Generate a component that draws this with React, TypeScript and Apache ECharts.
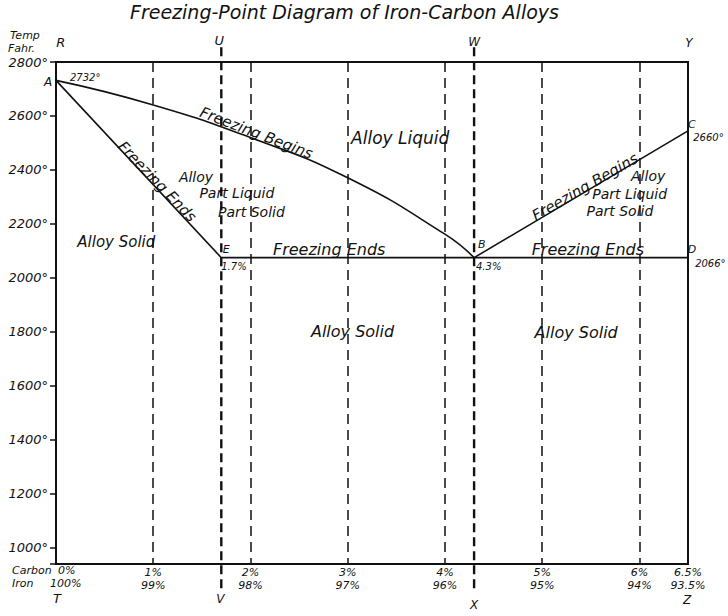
import React, { useEffect, useRef } from "react";
import * as echarts from "echarts";

// Liquidus curve A -> B (carbon %, temperature °F)
const liquidusCarbon = [0, 1, 2, 3, 4, 4.3];
const liquidusTemp = [2732, 2641, 2520, 2371, 2162, 2075];
// Solidus A -> E
const solidusCarbon = [0, 1.7];
const solidusTemp = [2732, 2075];
// Eutectic line E -> D
const eutecticCarbon = [1.7, 6.5];
const eutecticTemp = [2075, 2075];
// Liquidus B -> C
const rightCarbon = [4.3, 6.5];
const rightTemp = [2075, 2545];
// Section lines U-V and W-X
const sectionCarbon = [1.7, 4.3];
const sectionTemp = [2855, 844];

const yTicks = [1000, 1200, 1400, 1600, 1800, 2000, 2200, 2400, 2600, 2800];

// Annotations: text, carbon %, temp, rotation, size
const noteText = [
  "Freezing Begins", "Freezing Ends", "Alloy Liquid", "Alloy", "Part Liquid", "Part Solid",
  "Alloy Solid", "E", "1.7%", "Freezing Ends", "B", "4.3%", "Freezing Begins", "Alloy",
  "Part Liquid", "Part Solid", "Freezing Ends", "C", "2660°", "D", "2066°", "2732°", "A",
  "Alloy Solid", "Alloy Solid", "R", "U", "W", "Y", "T", "V", "X", "Z",
];
const noteCarbon = [
  2.06, 1.04, 3.54, 1.44, 1.86, 2.01, 0.62, 1.75, 1.83, 2.81, 4.38, 4.45, 5.44, 6.09,
  5.9, 5.8, 5.47, 6.54, 6.71, 6.54, 6.73, 0.3, -0.08, 3.05, 5.35, 0.05, 1.68, 4.3, 6.51,
  0.01, 1.69, 4.3, 6.49,
];
const noteTemp = [
  2537, 2357, 2518, 2374, 2315, 2245, 2133, 2104, 2044, 2104, 2122, 2044, 2337, 2378,
  2311, 2248, 2104, 2567, 2522, 2104, 2055, 2741, 2726, 1800, 1796, 2874, 2881, 2874,
  2870, 812, 812, 789, 807,
];
const noteRotate = [
  -21, -46, 0, 0, 0, 0, 0, 0, 0, 0, 0, 0, 30, 0, 0, 0, 0, 0, 0, 0, 0, 0, 0, 0, 0, 0, 0,
  0, 0, 0, 0, 0, 0,
];
const noteSize = [
  15, 15, 17, 14, 14, 14, 15, 11, 10, 16, 11, 10, 15, 14, 14, 14, 16, 11, 10, 11, 10, 10,
  12, 16, 16, 13, 13, 12, 12, 13, 12, 12, 12,
];

const INK = "#111111";
const FONT = "DejaVu Sans";

export default function App() {
  const ref = useRef<HTMLDivElement>(null);
  useEffect(() => {
    document.body.style.margin = "0";
    const chart = echarts.init(ref.current!, null, { renderer: "svg" });
    const line = (xs: number[], ys: number[], extra: any = {}) => ({
      type: "line",
      data: xs.map((x, i) => [x, ys[i]]),
      symbol: "none",
      lineStyle: { color: INK, width: 1.6 },
      silent: true,
      z: 5,
      ...extra,
    });
    chart.setOption({
      animation: false,
      backgroundColor: "#ffffff",
      textStyle: { fontFamily: FONT },
      grid: {
        left: 56, right: 40, top: 62, bottom: 52,
        show: true, borderColor: INK, borderWidth: 2,
      },
      xAxis: {
        type: "value", min: 0, max: 6.5, interval: 1,
        axisLine: { lineStyle: { color: INK, width: 2 } },
        axisTick: { show: false },
        splitLine: { show: true, lineStyle: { color: INK, width: 1.5, type: [10, 6] } },
        axisLabel: {
          showMinLabel: false,
          color: INK, fontSize: 11, fontStyle: "italic", lineHeight: 13, margin: 2,
          formatter: (v: number) => `${v}%\n${100 - v}%`,
        },
      },
      yAxis: {
        type: "value", min: 940, max: 2800, splitNumber: 9,
        axisLine: { show: true, lineStyle: { color: INK, width: 2 } },
        axisTick: { show: true, length: 6, lineStyle: { color: INK, width: 1.5 } },
        splitLine: { show: false },
        axisLabel: {
          color: INK, fontSize: 13, fontStyle: "italic", margin: 8,
          formatter: (v: number) => (yTicks.includes(v) ? `${v}°` : ""),
        },
      },
      graphic: [
        { type: "text", left: 130, top: 2, style: { text: "Freezing-Point Diagram of Iron-Carbon Alloys", font: `italic 19px ${FONT}`, fill: INK } },
        { type: "text", x: 10, y: 35, style: { text: "Temp", font: `italic 11px ${FONT}`, fill: INK, verticalAlign: "middle" } },
        { type: "text", x: 8, y: 48, style: { text: "Fahr.", font: `italic 11px ${FONT}`, fill: INK, verticalAlign: "middle" } },
        { type: "text", x: 12, y: 570, style: { text: "Carbon", font: `italic 11px ${FONT}`, fill: INK, verticalAlign: "middle" } },
        { type: "text", x: 12, y: 583, style: { text: "Iron", font: `italic 11px ${FONT}`, fill: INK, verticalAlign: "middle" } },
        { type: "text", x: 58, y: 570, style: { text: "0%", font: `italic 11px ${FONT}`, fill: INK, verticalAlign: "middle" } },
        { type: "text", x: 50, y: 583, style: { text: "100%", font: `italic 11px ${FONT}`, fill: INK, verticalAlign: "middle" } },
      ],
      series: [
        line(liquidusCarbon, liquidusTemp, { smooth: 0.5 }),
        line(solidusCarbon, solidusTemp),
        line(eutecticCarbon, eutecticTemp),
        line(rightCarbon, rightTemp),
        line([sectionCarbon[0], sectionCarbon[0]], sectionTemp, {
          clip: false, lineStyle: { color: INK, width: 2.4, type: [9, 5] },
        }),
        line([sectionCarbon[1], sectionCarbon[1]], sectionTemp, {
          clip: false, lineStyle: { color: INK, width: 2.4, type: [9, 5] },
        }),
        {
          type: "scatter",
          clip: false,
          silent: true,
          symbolSize: 0,
          itemStyle: { color: INK },
          z: 10,
          data: noteText.map((t, i) => ({
            value: [noteCarbon[i], noteTemp[i]],
            label: {
              show: true,
              position: "inside",
              formatter: t,
              rotate: noteRotate[i],
              fontSize: noteSize[i],
              fontStyle: "italic",
              fontFamily: FONT,
              color: INK,
              opacity: 1,
              textBorderWidth: 0,
              textBorderColor: "transparent",
              align: "center",
              verticalAlign: "middle",
            },
          })),
        },
      ],
    });
    return () => chart.dispose();
  }, []);
  return <div ref={ref} style={{ width: 728, height: 616 }} />;
}
